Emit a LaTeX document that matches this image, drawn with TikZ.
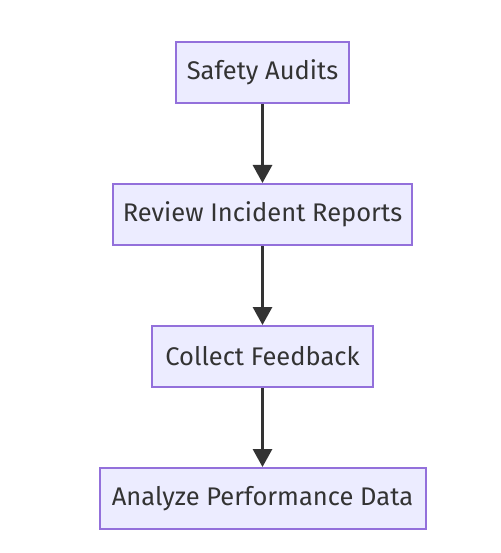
\documentclass[tikz,border=0pt]{standalone}
\usepackage{fontspec}
\setmainfont{Fira Sans}
\usetikzlibrary{arrows.meta}
\definecolor{boxfill}{HTML}{ECECFF}
\definecolor{boxline}{HTML}{9370DB}
\definecolor{arrowc}{HTML}{333333}
\begin{document}
\begin{tikzpicture}[x=1pt,y=-1pt,
  flowbox/.style={draw=boxline,fill=boxfill,line width=2pt,minimum height=61pt,inner sep=0pt,font=\fontsize{25.5}{29}\selectfont,text=arrowc},
  flowarrow/.style={draw=arrowc,line width=3pt,-{Triangle[length=18pt,width=19pt]}}]
\useasboundingbox[fill=white] (0,0) rectangle (500,553);
\node[flowbox,minimum width=173pt] (a) at (262.5,72.5) {Safety Audits};
\node[flowbox,minimum width=299pt] (b) at (262.5,214.5) {Review Incident Reports};
\node[flowbox,minimum width=221pt] (c) at (262.5,356.5) {Collect Feedback};
\node[flowbox,minimum width=326pt] (d) at (262.5,498.5) {Analyze Performance Data};
\draw[flowarrow] (a) -- (b);
\draw[flowarrow] (b) -- (c);
\draw[flowarrow] (c) -- (d);
\end{tikzpicture}
\end{document}
